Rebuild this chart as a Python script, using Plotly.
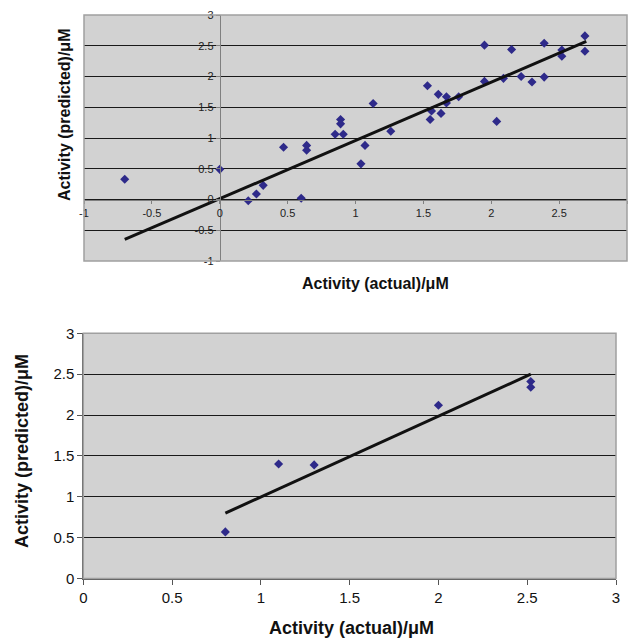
import plotly.graph_objects as go

# ---------------- data ----------------
# Top chart (training set)
top_actual = [-0.70, 0.00, 0.21, 0.27, 0.32, 0.47, 0.60, 0.64, 0.64, 0.85,
              0.91, 0.89, 0.89, 1.04, 1.07, 1.13, 1.26, 1.53, 1.55, 1.56,
              1.61, 1.63, 1.67, 1.67, 1.76, 1.95, 1.95, 2.04, 2.09, 2.15,
              2.22, 2.30, 2.39, 2.39, 2.52, 2.52, 2.69, 2.69]
top_predicted = [0.33, 0.49, -0.02, 0.09, 0.23, 0.85, 0.02, 0.88, 0.80, 1.06,
                 1.06, 1.30, 1.23, 0.58, 0.88, 1.56, 1.11, 1.85, 1.30, 1.44,
                 1.71, 1.40, 1.67, 1.57, 1.67, 2.51, 1.92, 1.27, 1.97, 2.44,
                 2.00, 1.91, 2.54, 1.99, 2.43, 2.33, 2.66, 2.41]
top_fit_x = [-0.70, 2.70]
top_fit_y = [-0.65, 2.57]

# Bottom chart (test set)
bot_actual = [0.80, 1.10, 1.30, 2.00, 2.52, 2.52]
bot_predicted = [0.57, 1.40, 1.39, 2.12, 2.41, 2.34]
bot_fit_x = [0.80, 2.52]
bot_fit_y = [0.80, 2.50]

top_ticks = [-1, -0.5, 0, 0.5, 1, 1.5, 2, 2.5, 3]
top_ticktext = ["-1", "-0.5", "0", "0.5", "1", "1.5", "2", "2.5", "3"]
bot_ticks = [0, 0.5, 1, 1.5, 2, 2.5, 3]
bot_ticktext = ["0", "0.5", "1", "1.5", "2", "2.5", "3"]

x_title = "Activity (actual)/μM"
y_title = "Activity (predicted)/μM"

# ---------------- layout geometry ----------------
W, H = 629, 640
top_xd = [84 / W, 627 / W]
top_yd = [1 - 261 / H, 1 - 15 / H]
bot_xd = [83.3 / W, 616 / W]
bot_yd = [1 - 578.5 / H, 1 - 333.3 / H]
top_range = [-1, 3]

def frac(v, rng, dom):
    return dom[0] + (v - rng[0]) / (rng[1] - rng[0]) * (dom[1] - dom[0])

x0_pos = frac(0, top_range, top_xd)   # paper x where data x=0
y0_pos = frac(0, top_range, top_yd)   # paper y where data y=0

MARKER = dict(symbol="diamond", size=7, color="#2e2a8a")
FONT = "Liberation Sans, Arial, sans-serif"

fig = go.Figure()
fig.add_trace(go.Scatter(x=top_actual, y=top_predicted, mode="markers",
                         marker=MARKER, xaxis="x", yaxis="y", showlegend=False))
fig.add_trace(go.Scatter(x=top_fit_x, y=top_fit_y, mode="lines",
                         line=dict(color="#111111", width=3), xaxis="x", yaxis="y",
                         showlegend=False))
fig.add_trace(go.Scatter(x=bot_actual, y=bot_predicted, mode="markers",
                         marker=dict(MARKER, size=7), xaxis="x2", yaxis="y2", showlegend=False))
fig.add_trace(go.Scatter(x=bot_fit_x, y=bot_fit_y, mode="lines",
                         line=dict(color="#111111", width=3), xaxis="x2", yaxis="y2",
                         showlegend=False))

top_tickfont = dict(family=FONT, size=11, color="#222222")
bot_tickfont = dict(family=FONT, size=15, color="#111111")

fig.update_layout(
    width=W, height=H, autosize=False,
    margin=dict(l=0, r=0, t=0, b=0, pad=0),
    paper_bgcolor="white", plot_bgcolor="#d2d2d2",
    font=dict(family=FONT),
    xaxis=dict(domain=top_xd, range=top_range, anchor="free", position=y0_pos,
               automargin=False,
               tickmode="array", tickvals=top_ticks, ticktext=top_ticktext,
               showgrid=False, zeroline=False, showline=True, linecolor="#808080",
               linewidth=1, ticks="outside", ticklen=3, tickcolor="#808080",
               tickfont=top_tickfont),
    yaxis=dict(domain=top_yd, range=top_range, anchor="free", position=x0_pos,
               automargin=False,
               tickmode="array", tickvals=top_ticks, ticktext=top_ticktext,
               showgrid=True, gridcolor="#1a1a1a", gridwidth=1, zeroline=False,
               showline=True, linecolor="#808080", linewidth=1,
               ticks="outside", ticklen=4, tickcolor="#808080",
               tickfont=top_tickfont),
    xaxis2=dict(domain=bot_xd, range=[0, 3], anchor="y2", automargin=False,
                tickmode="array", tickvals=bot_ticks, ticktext=bot_ticktext,
                showgrid=False, zeroline=False, showline=True, linecolor="#555555",
                linewidth=1, ticks="outside", ticklen=5, tickcolor="#555555",
                tickfont=bot_tickfont),
    yaxis2=dict(domain=bot_yd, range=[0, 3], anchor="x2", automargin=False,
                tickmode="array", tickvals=bot_ticks, ticktext=bot_ticktext,
                showgrid=True, gridcolor="#1a1a1a", gridwidth=1, zeroline=False,
                showline=True, linecolor="#555555", linewidth=1,
                ticks="outside", ticklen=5, tickcolor="#555555",
                tickfont=bot_tickfont),
)

# plot-area borders
fig.add_shape(type="rect", xref="x domain", yref="y domain", x0=0, x1=1, y0=0, y1=1,
              line=dict(color="#a0a0a0", width=1.5), fillcolor="rgba(0,0,0,0)")
fig.add_shape(type="rect", xref="x2 domain", yref="y2 domain", x0=0, x1=1, y0=0, y1=1,
              line=dict(color="#a0a0a0", width=1.5), fillcolor="rgba(0,0,0,0)")

# axis titles
title_font_top = dict(family=FONT, size=16, color="#111111")
title_font_bot = dict(family=FONT, size=18, color="#111111")
fig.add_annotation(text="<b>%s</b>" % x_title, xref="paper", yref="paper",
                   x=375 / W, y=1 - 283 / H, showarrow=False, font=title_font_top,
                   xanchor="center", yanchor="middle")
fig.add_annotation(text="<b>%s</b>" % y_title, xref="paper", yref="paper",
                   x=64 / W, y=1 - 115 / H, showarrow=False, font=title_font_top,
                   textangle=-90, xanchor="center", yanchor="middle")
fig.add_annotation(text="<b>%s</b>" % x_title, xref="paper", yref="paper",
                   x=351 / W, y=1 - 628 / H, showarrow=False, font=title_font_bot,
                   xanchor="center", yanchor="middle")
fig.add_annotation(text="<b>%s</b>" % y_title, xref="paper", yref="paper",
                   x=22 / W, y=1 - 451 / H, showarrow=False, font=title_font_bot,
                   textangle=-90, xanchor="center", yanchor="middle")

fig.write_html(
    "out.html",
    config={"displayModeBar": False},
    post_script="document.body.style.margin='0';document.body.style.overflow='hidden';",
)
